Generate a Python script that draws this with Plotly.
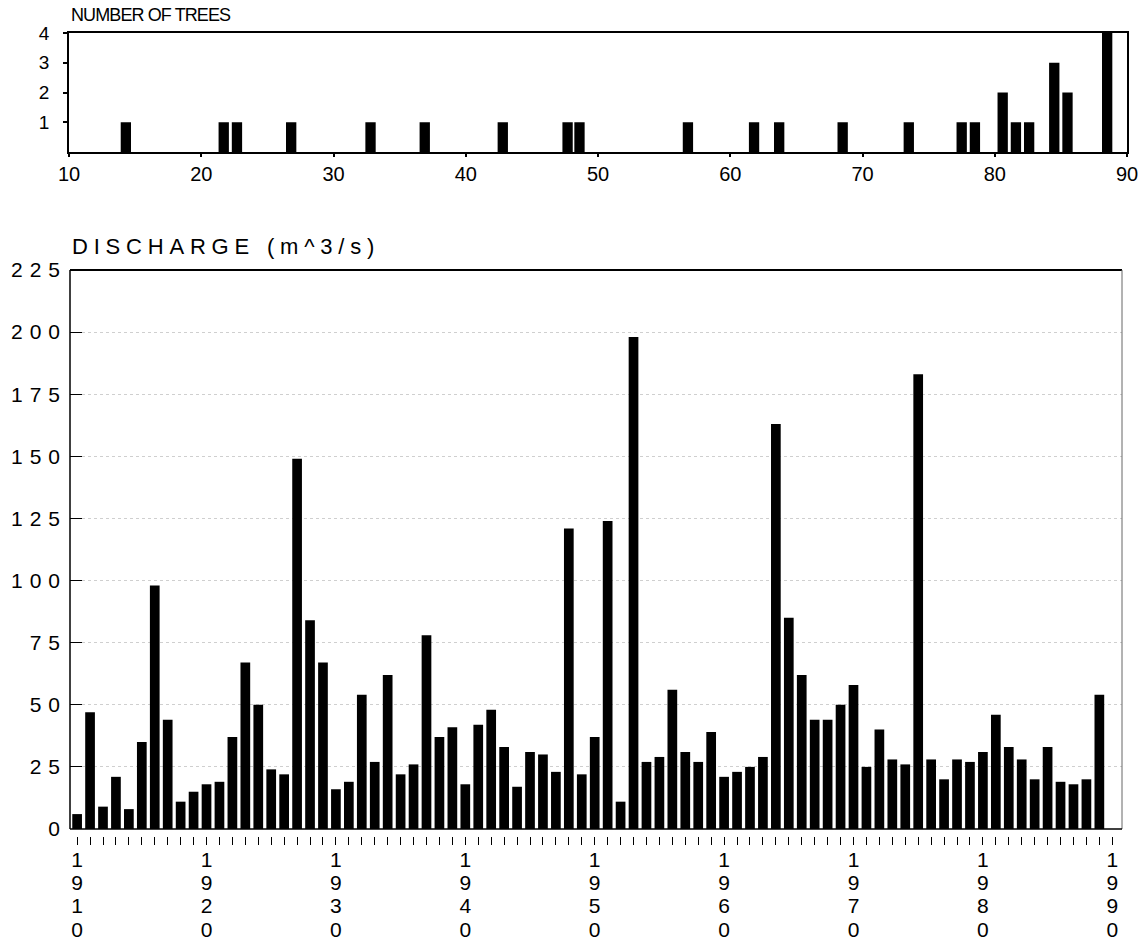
import plotly.graph_objects as go

# Tree counts by age class (top panel)
tree_age = [14.3, 21.7, 22.7, 26.8, 32.8, 36.9, 42.8, 47.7, 48.6, 56.8, 61.8,
            63.7, 68.5, 73.5, 77.5, 78.5, 80.6, 81.6, 82.6, 84.5, 85.5, 88.5]
tree_count = [1, 1, 1, 1, 1, 1, 1, 1, 1, 1, 1,
              1, 1, 1, 1, 1, 2, 1, 1, 3, 2, 4]
tree_ticks = [10, 20, 30, 40, 50, 60, 70, 80, 90]

# Annual peak discharge, 1910-1989 (bottom panel)
years = list(range(1910, 1990))
discharge = [6, 47, 9, 21, 8, 35, 98, 44, 11, 15,
             18, 19, 37, 67, 50, 24, 22, 149, 84, 67,
             16, 19, 54, 27, 62, 22, 26, 78, 37, 41,
             18, 42, 48, 33, 17, 31, 30, 23, 121, 22,
             37, 124, 11, 198, 27, 29, 56, 31, 27, 39,
             21, 23, 25, 29, 163, 85, 62, 44, 44, 50,
             58, 25, 40, 28, 26, 183, 28, 20, 28, 27,
             31, 46, 33, 28, 20, 33, 19, 18, 20, 54]
year_ticks = [1910, 1920, 1930, 1940, 1950, 1960, 1970, 1980, 1990]
q_ticks = [0, 25, 50, 75, 100, 125, 150, 175, 200, 225]

W, H = 1143, 952


def fx(px):
    return px / W


def fy(px):
    return 1 - px / H


FONT = "Liberation Sans, Arial, sans-serif"


def spaced(s, sp):
    return f'<span style="letter-spacing:{sp}px">{s}</span>'


def stacked(year):
    # one digit per line, slightly larger glyphs than the tick font's line pitch
    digits = "<br>".join(str(year))
    return f'<span style="font-size:21px">{digits}</span>'


fig = go.Figure()

fig.add_trace(go.Bar(
    x=tree_age, y=tree_count, width=0.78,
    marker=dict(color="black", line=dict(width=0)),
    xaxis="x", yaxis="y", hoverinfo="x+y",
))

fig.add_trace(go.Bar(
    x=years, y=discharge, width=0.75,
    marker=dict(color="black", line=dict(width=0)),
    xaxis="x2", yaxis="y2", hoverinfo="x+y",
))

fig.update_layout(
    width=W, height=H,
    margin=dict(l=0, r=0, t=0, b=0, pad=0, autoexpand=False),
    paper_bgcolor="white", plot_bgcolor="white",
    showlegend=False,
    font=dict(family=FONT, color="black"),
    xaxis=dict(
        domain=[fx(69), fx(1127)], range=[10, 90], anchor="y",
        automargin=False,
        tickvals=tree_ticks, ticktext=[str(v) for v in tree_ticks],
        ticks="outside", ticklen=3, tickwidth=1.5, tickcolor="black",
        showline=True, mirror=True, linecolor="black", linewidth=2,
        showgrid=False, zeroline=False,
        tickfont=dict(size=20, family=FONT),
    ),
    yaxis=dict(
        domain=[fy(152), fy(33)], range=[0, 4], anchor="x",
        automargin=False,
        tickvals=[1, 2, 3, 4], ticktext=["1", "2", "3", "4"],
        ticks="outside", ticklen=4, tickwidth=1.5, tickcolor="black",
        showline=True, mirror=True, linecolor="black", linewidth=1.5,
        showgrid=False, zeroline=False, ticklabelstandoff=10,
        tickfont=dict(size=19, family=FONT),
    ),
    xaxis2=dict(
        domain=[fx(70), fx(1122)], range=[1909.45, 1990.75],
        anchor="free", position=fy(836), automargin=False,
        tickvals=year_ticks,
        ticktext=[stacked(y) for y in year_ticks],
        ticks="outside", ticklen=8, tickwidth=1, tickcolor="black",
        minor=dict(dtick=1, tick0=1910, ticks="outside", ticklen=8,
                   tickwidth=1, tickcolor="black", showgrid=False),
        showline=False, showgrid=False, zeroline=False,
        ticklabelstandoff=0,
        tickfont=dict(size=18, family=FONT),
    ),
    yaxis2=dict(
        domain=[fy(829), fy(270)], range=[0, 225], anchor="x2",
        automargin=False,
        tickvals=q_ticks, ticktext=[spaced(str(v), 7) for v in q_ticks],
        ticks="inside", ticklen=12, tickwidth=1, tickcolor="black",
        showline=False,
        showgrid=True, gridcolor="#cfcfcf", griddash="dot", gridwidth=1,
        zeroline=False, ticklabelstandoff=2,
        tickfont=dict(size=21, family=FONT),
    ),
    shapes=[
        # frame around the discharge panel
        dict(type="line", xref="x2 domain", yref="y2 domain",
             x0=0, x1=1, y0=1, y1=1, line=dict(color="black", width=2)),
        dict(type="line", xref="x2 domain", yref="y2 domain",
             x0=0, x1=0, y0=0, y1=1, line=dict(color="black", width=1.5)),
        dict(type="line", xref="x2 domain", yref="y2 domain",
             x0=1, x1=1, y0=0, y1=1, line=dict(color="#666666", width=1)),
        dict(type="line", xref="x2 domain", yref="y2 domain",
             x0=0, x1=1, y0=0, y1=0, line=dict(color="black", width=1.5)),
    ],
    annotations=[
        dict(text=spaced("NUMBER OF TREES", -0.9), xref="paper", yref="paper",
             x=fx(69), y=fy(15), xanchor="left", yanchor="middle",
             showarrow=False, font=dict(size=18, family=FONT)),
        dict(text=spaced("DISCHARGE (m^3/s)", 5.8), xref="paper", yref="paper",
             x=fx(70), y=fy(247), xanchor="left", yanchor="middle",
             showarrow=False, font=dict(size=22, family=FONT)),
    ],
)

fig.write_html("out.html")
